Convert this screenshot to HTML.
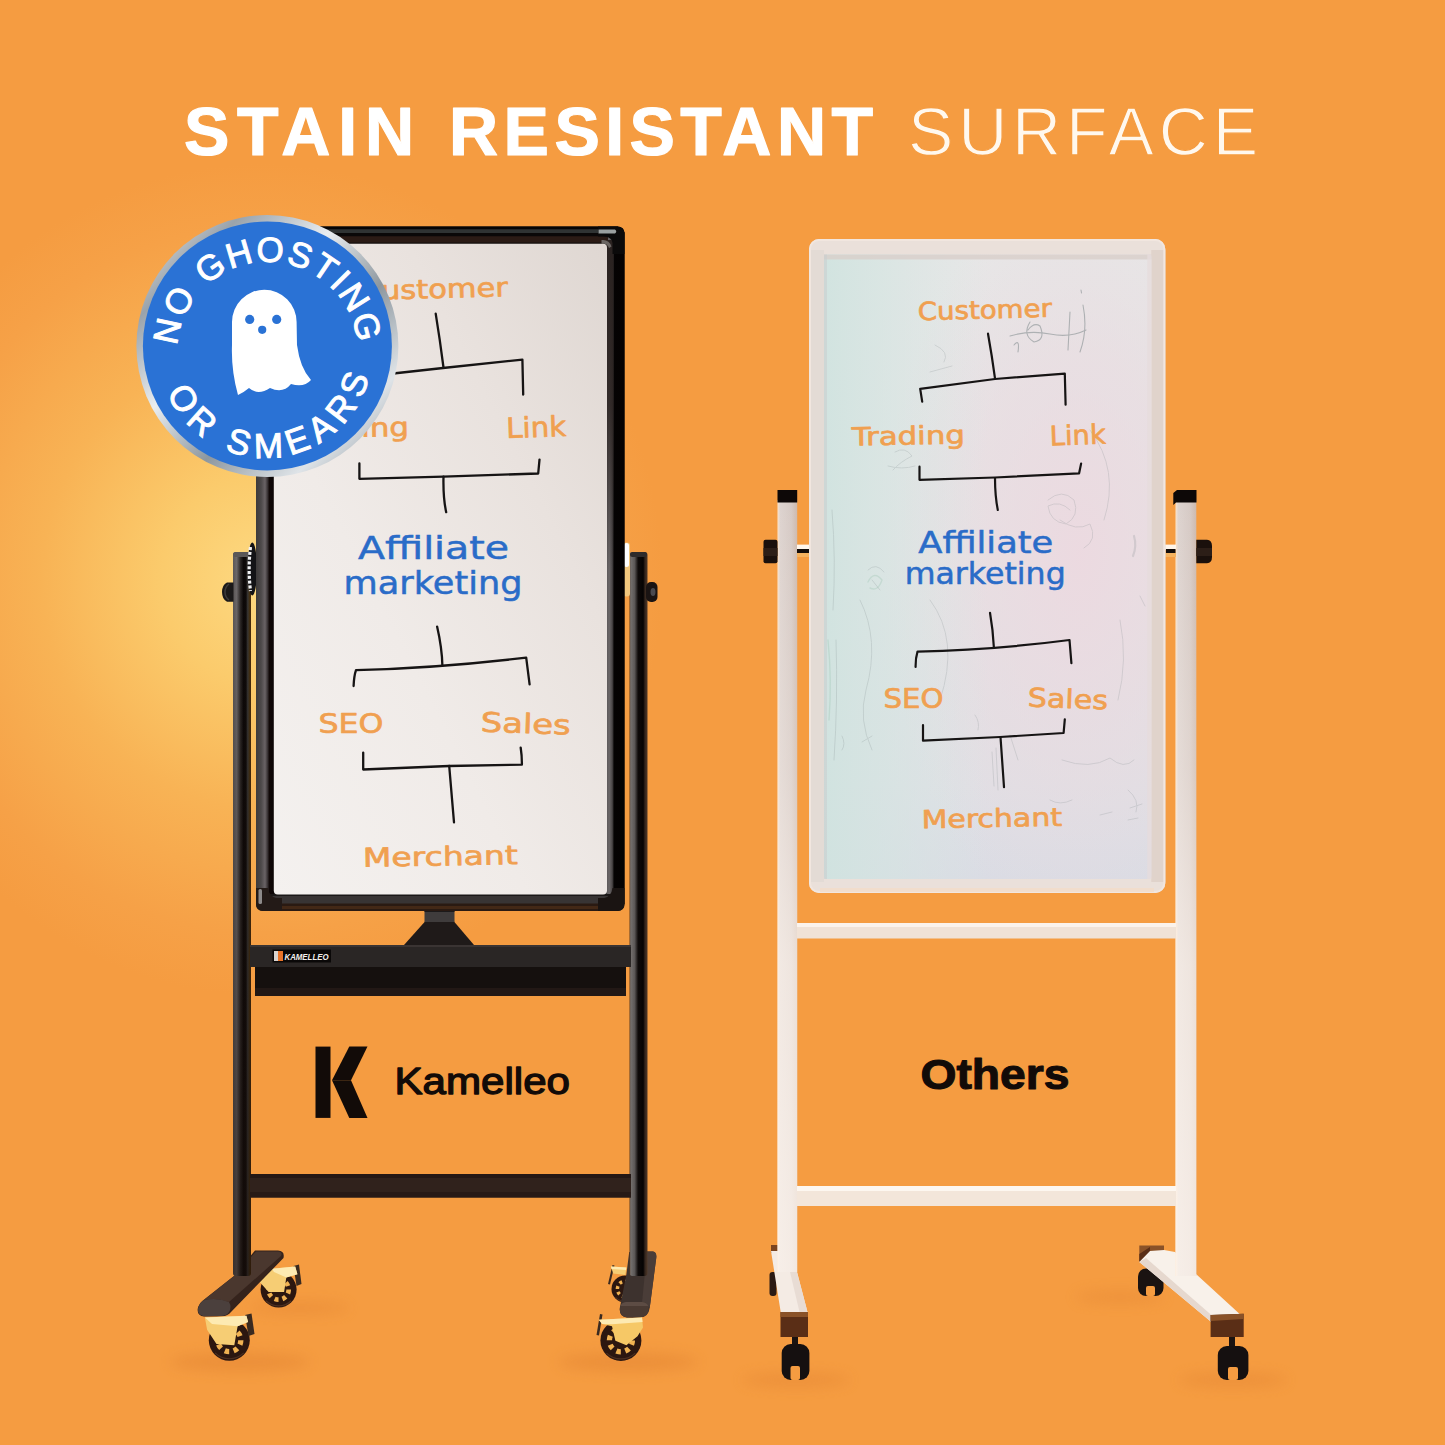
<!DOCTYPE html>
<html lang="en">
<head>
<meta charset="utf-8">
<title>Stain Resistant Surface</title>
<style>
html,body{margin:0;padding:0;background:#f59c41;}
body{width:1445px;height:1445px;overflow:hidden;position:relative;font-family:"Liberation Sans",sans-serif;}
svg{display:block;position:absolute;left:0;top:0;}
.hand{font-family:"DejaVu Sans","Liberation Sans",sans-serif;}
.lib{font-family:"Liberation Sans",sans-serif;}
</style>
</head>
<body>
<svg width="1445" height="1445" viewBox="0 0 1445 1445">
<defs>
  <radialGradient id="glow" cx="262" cy="580" r="385" gradientUnits="userSpaceOnUse" gradientTransform="translate(262 585) scale(1.04 1.08) translate(-262 -585)">
    <stop offset="0" stop-color="#fdd981"/>
    <stop offset="0.25" stop-color="#fbcb6c"/>
    <stop offset="0.55" stop-color="#f8b355"/>
    <stop offset="0.85" stop-color="#f6a147"/>
    <stop offset="1" stop-color="#f59c41"/>
  </radialGradient>
  <linearGradient id="poleL" x1="0" x2="1" y1="0" y2="0">
    <stop offset="0" stop-color="#5c5857"/>
    <stop offset="0.2" stop-color="#6d696a"/>
    <stop offset="0.42" stop-color="#2a2625"/>
    <stop offset="0.58" stop-color="#0c0808"/>
    <stop offset="0.72" stop-color="#0e0a09"/>
    <stop offset="0.82" stop-color="#3a3836"/>
    <stop offset="0.93" stop-color="#45300f"/>
    <stop offset="1" stop-color="#4a2a0a"/>
  </linearGradient>
  <linearGradient id="poleFade" x1="0" x2="0" y1="0" y2="1">
    <stop offset="0" stop-color="#1a0f0a" stop-opacity="0"/>
    <stop offset="0.45" stop-color="#1a0f0a" stop-opacity="0.25"/>
    <stop offset="1" stop-color="#1a0f0a" stop-opacity="0.55"/>
  </linearGradient>
  <linearGradient id="poleR" x1="0" x2="1" y1="0" y2="0">
    <stop offset="0" stop-color="#5a3a20"/>
    <stop offset="0.07" stop-color="#74706e"/>
    <stop offset="0.28" stop-color="#5c5857"/>
    <stop offset="0.48" stop-color="#0e0a09"/>
    <stop offset="0.76" stop-color="#050303"/>
    <stop offset="0.86" stop-color="#32241c"/>
    <stop offset="1" stop-color="#4e3828"/>
  </linearGradient>
  <linearGradient id="frameL" x1="0" x2="1" y1="0" y2="0">
    <stop offset="0" stop-color="#3d3a3a"/>
    <stop offset="0.28" stop-color="#4c4849"/>
    <stop offset="0.5" stop-color="#6a6366"/>
    <stop offset="0.64" stop-color="#3a3436"/>
    <stop offset="0.74" stop-color="#100808"/>
    <stop offset="1" stop-color="#0c0606"/>
  </linearGradient>
  <linearGradient id="frameR" x1="0" x2="1" y1="0" y2="0">
    <stop offset="0" stop-color="#5a5657"/>
    <stop offset="0.15" stop-color="#6b6768"/>
    <stop offset="0.32" stop-color="#4a4647"/>
    <stop offset="0.42" stop-color="#050303"/>
    <stop offset="1" stop-color="#050202"/>
  </linearGradient>
  <linearGradient id="wbL" x1="1" x2="0" y1="0" y2="1">
    <stop offset="0" stop-color="#dfd7d2"/>
    <stop offset="0.3" stop-color="#e9e2de"/>
    <stop offset="0.62" stop-color="#f0ebe8"/>
    <stop offset="1" stop-color="#f4f1ef"/>
  </linearGradient>
  <linearGradient id="wbR" x1="0" x2="0" y1="0" y2="1">
    <stop offset="0" stop-color="#e7e7e7"/>
    <stop offset="0.5" stop-color="#e6e4e6"/>
    <stop offset="0.85" stop-color="#dfe0e5"/>
    <stop offset="1" stop-color="#dadce4"/>
  </linearGradient>
  <linearGradient id="wbRleft" x1="0" x2="1" y1="0" y2="0">
    <stop offset="0" stop-color="#cfe3df" stop-opacity="0.9"/>
    <stop offset="0.2" stop-color="#d3e5e1" stop-opacity="0.6"/>
    <stop offset="0.5" stop-color="#d8e6e3" stop-opacity="0"/>
  </linearGradient>
  <radialGradient id="wbRpink" cx="0.78" cy="0.48" r="0.6">
    <stop offset="0" stop-color="#ecd9e0" stop-opacity="0.95"/>
    <stop offset="0.55" stop-color="#ead9df" stop-opacity="0.5"/>
    <stop offset="1" stop-color="#ead9df" stop-opacity="0"/>
  </radialGradient>
  <linearGradient id="wPole" x1="0" x2="1" y1="0" y2="0">
    <stop offset="0" stop-color="#fbe3cb"/>
    <stop offset="0.14" stop-color="#ddd3cf"/>
    <stop offset="0.7" stop-color="#d6cac5"/>
    <stop offset="1" stop-color="#cdb9ad"/>
  </linearGradient>
  <linearGradient id="bevelDark" x1="0" x2="0" y1="0" y2="1">
    <stop offset="0" stop-color="#2a2220" stop-opacity="1"/>
    <stop offset="0.5" stop-color="#2a2220" stop-opacity="0.85"/>
    <stop offset="1" stop-color="#2a2220" stop-opacity="0"/>
  </linearGradient>
  <linearGradient id="bevelDarkL" x1="0" x2="0" y1="0" y2="1">
    <stop offset="0" stop-color="#000" stop-opacity="0"/>
    <stop offset="1" stop-color="#000" stop-opacity="0"/>
  </linearGradient>
  <filter id="soft" x="-30%" y="-200%" width="160%" height="500%"><feGaussianBlur stdDeviation="7"/></filter>
  <linearGradient id="wPoleV" x1="0" x2="0" y1="0" y2="1">
    <stop offset="0" stop-color="#fff7f0" stop-opacity="0"/>
    <stop offset="0.35" stop-color="#fff7f0" stop-opacity="0.25"/>
    <stop offset="0.6" stop-color="#fff7f0" stop-opacity="0.6"/>
    <stop offset="1" stop-color="#fff7f0" stop-opacity="0.75"/>
  </linearGradient>
</defs>

<!-- ===== background ===== -->
<rect id="bg" x="0" y="0" width="1445" height="1445" fill="#f59c41"/>
<rect id="bgglow" x="0" y="0" width="1445" height="1445" fill="url(#glow)"/>

<!-- ===== heading ===== -->
<g id="heading" class="lib" fill="#ffffff" font-size="68">
  <text x="184" y="155" font-weight="700" textLength="230" lengthAdjust="spacing" stroke="#fff" stroke-width="1.2" stroke-linejoin="round">STAIN</text>
  <text x="449" y="155" font-weight="700" textLength="424" lengthAdjust="spacing" stroke="#fff" stroke-width="1.2" stroke-linejoin="round">RESISTANT</text>
  <text x="908" y="155" font-weight="400" textLength="350" lengthAdjust="spacing" fill="#fff8ee" stroke="#f59c41" stroke-width="1.3" stroke-linejoin="round">SURFACE</text>
</g>

<!-- ===== left stand (black) ===== -->
<g id="leftstand">
  <!-- floor shadows -->
  <ellipse cx="240" cy="1362" rx="70" ry="9" fill="#d9772a" opacity="0.35" filter="url(#soft)"/>
  <ellipse cx="628" cy="1362" rx="70" ry="9" fill="#d9772a" opacity="0.35" filter="url(#soft)"/>
  <ellipse cx="300" cy="1308" rx="50" ry="6" fill="#d9772a" opacity="0.3" filter="url(#soft)"/>
  <!-- back-left caster -->
  <g id="casterBL">
    <circle cx="278.6" cy="1289.6" r="18" fill="#2c1710"/><circle cx="278.6" cy="1289.6" r="10.1" fill="none" stroke="#f0b252" stroke-width="4.7" stroke-dasharray="3.96 3.96"/><path d="M266.0 1300.8 A18 18 0 0 0 291.2 1300.8" fill="none" stroke="#5a3a2a" stroke-width="1.2" opacity="0.7"/>
    <path d="M293.5 1266 L299 1264.5 L301.5 1284 L296.5 1286 Z" fill="#3a2a20"/>
    <path d="M259.7 1282 L271.9 1268.8 L295.2 1266.5 L297.4 1274.3 L286.3 1277.6 L284.1 1292 L268.6 1292 Z" fill="#f6cd74"/>
    <path d="M271.9 1268.8 L295.2 1266.5 L297.4 1274.3 L286.3 1277.6 L274 1272 Z" fill="#fdeab2"/>
  </g>
  <!-- back-right caster (mostly hidden) -->
  <g id="casterBR">
    <circle cx="625" cy="1289" r="13.5" fill="#2c1710"/><circle cx="625" cy="1289" r="7.6" fill="none" stroke="#f0b252" stroke-width="3.5" stroke-dasharray="2.97 2.97"/><path d="M615.5 1297.4 A13.5 13.5 0 0 0 634.5 1297.4" fill="none" stroke="#5a3a2a" stroke-width="1.2" opacity="0.7"/>
    <path d="M612.5 1265 L614.5 1265.5 L610 1284.5 L608 1284 Z" fill="#3a2a20"/>
    <path d="M610.9 1266.5 L626.4 1267.6 L625.3 1275 L613.2 1273.5 Z" fill="#f6cd74"/>
    <path d="M610.9 1266.5 L626.4 1267.6 L626 1270 L611.5 1269 Z" fill="#fdeab2"/>
  </g>
  <!-- feet -->
  <path id="footL" d="M255 1250.5 L278 1250.5 Q285 1251 283.5 1258 L231 1312 Q228 1316 222 1316.3 L204 1316.5 Q197 1315.5 197.7 1309 Q198.5 1304 203 1300.5 L234 1276 Z" fill="#35231c"/>
  <path d="M256 1251.5 L278 1251.500 Q283 1252 281 1256 L229 1302 Q214 1297 203 1300.5 L234 1276 Z" fill="#4a372e"/>
  <path d="M203 1300.5 Q216 1297 229 1302 Q232 1307 229 1312 Q227 1315.5 222 1316 L204 1316.3 Q197.5 1315 198 1309 Q199 1304 203 1300.5 Z" fill="#4b403d"/>
  <path id="footR" d="M629.2 1252 L647 1251.6 L653 1251.600 Q656.8 1252.500 656.300 1257.500 L649.7 1308 Q648.500 1317 640 1317.500 L627 1317.500 Q619 1316.500 619.800 1308 L626.4 1274.3 Z" fill="#3d322e"/>
  <path d="M647 1251.600 L653 1251.600 Q656.8 1252.500 656.300 1257.500 L649.7 1308 L642 1303 Z" fill="#4a3d38"/>
  <path d="M626 1302 L642 1302 Q649 1303 648.600 1309 Q648 1317 640 1317.500 L627 1317.500 Q619.500 1316.500 619.800 1309 Q620.500 1302.500 626 1302 Z" fill="#4a3a32"/>
  <path d="M626 1302 L642 1302 Q647 1302.500 648.300 1306 L620.300 1306 Q621.500 1302.500 626 1302 Z" fill="#5d4c44"/>
  <!-- poles -->
  <rect x="233" y="552" width="18" height="724" rx="3" fill="url(#poleL)"/>
  <rect x="233" y="552" width="18" height="724" rx="3" fill="url(#poleFade)"/>
  <rect x="233" y="552" width="18" height="5" rx="2.5" fill="#5a5758"/>
  <rect x="629.5" y="552" width="18" height="724" rx="3" fill="url(#poleR)"/>
  <rect x="630" y="552" width="17" height="5" rx="2.5" fill="#2e2b2b"/>
  <!-- small side knobs -->
  <path d="M233.500 582.500 L227 582.500 Q222 585 222 592 Q222 599 227 601.800 L233.500 601.800 Z" fill="#1b1919"/>
  <path d="M229 584 Q225 587 225 592 Q225 597 229 600" fill="none" stroke="#3d3b3b" stroke-width="1.500"/>
  <rect x="646" y="582" width="11.5" height="20" rx="5" fill="#1a1413"/>
  <ellipse cx="653" cy="592" rx="2.5" ry="4" fill="#4a4a50"/>
  <!-- silver / gold big knobs between pole and frame -->
  <ellipse cx="252.300" cy="569" rx="4.700" ry="26.500" fill="#131316"/>
  <path d="M250.500 547 Q247.800 569 250.500 591" fill="none" stroke="#f1f1f3" stroke-width="3.200" stroke-dasharray="3.200 1.600" stroke-linecap="butt"/>
  <rect x="623.5" y="542.5" width="6.5" height="54" rx="3" fill="#f2c77d"/>
  <rect x="624" y="543" width="5" height="24" rx="2.5" fill="#ffffff"/>
  <!-- lower crossbar -->
  <rect x="250" y="1174" width="381" height="23.5" fill="#30221c"/>
  <rect x="250" y="1174" width="381" height="4" fill="#241815"/>
  <rect x="250" y="1192" width="381" height="5.5" fill="#271a16"/>
  <!-- marker tray -->
  <rect x="255" y="964" width="371" height="32" fill="#15100e"/>
  <rect x="255" y="988" width="371" height="8" fill="#221815"/>
  <rect x="250" y="945" width="381" height="22" fill="#2a2625"/>
  <rect x="250" y="945" width="381" height="2" fill="#3a3433"/>
  <!-- pivot -->
  <path d="M404 945 L425 921.5 L454 921.5 L474 945 Z" fill="#1f1a19"/>
  <rect x="424.5" y="906" width="30" height="16" fill="#3f3c3c"/>
  <rect x="424.5" y="906" width="30" height="6" fill="#1c1a1a"/>
  <!-- brand plate -->
  <rect x="272.5" y="949.5" width="58.5" height="13" fill="#0a0808"/>
  <rect x="274" y="951" width="4" height="10" fill="#d9d4d0"/>
  <rect x="278" y="951" width="5" height="10" fill="#e8742a"/>
  <text x="284.5" y="960" class="lib" font-size="8.6" font-weight="700" font-style="italic" fill="#f4f1ee" textLength="44" lengthAdjust="spacingAndGlyphs">KAMELLEO</text>
  <!-- front-left caster -->
  <g id="casterFL">
    <circle cx="229.3" cy="1340.2" r="20.5" fill="#2c1710"/><circle cx="229.3" cy="1340.2" r="11.5" fill="none" stroke="#f0b252" stroke-width="5.3" stroke-dasharray="4.51 4.51"/><path d="M215.0 1352.9 A20.5 20.5 0 0 0 243.7 1352.9" fill="none" stroke="#5a3a2a" stroke-width="1.2" opacity="0.7"/>
    <path d="M245 1315 L251.5 1313.5 L254.5 1334 L248.5 1336 Z" fill="#3a2a20"/>
    <path d="M204.9 1317.5 L246.4 1315.8 L248.1 1321.9 L237.6 1326.3 L234.3 1345.2 L216.5 1344.1 L207.1 1329.7 Z" fill="#f6cd74"/>
    <path d="M204.9 1317.5 L246.4 1315.8 L248.1 1321.9 L237.6 1326.3 L212 1324 Z" fill="#fdeab2"/>
  </g>
  <!-- front-right caster -->
  <g id="casterFR">
    <circle cx="620.9" cy="1340.4" r="20.5" fill="#2c1710"/><circle cx="620.9" cy="1340.4" r="11.5" fill="none" stroke="#f0b252" stroke-width="5.3" stroke-dasharray="4.51 4.51"/><path d="M606.5 1353.1 A20.5 20.5 0 0 0 635.2 1353.1" fill="none" stroke="#5a3a2a" stroke-width="1.2" opacity="0.7"/>
    <path d="M600 1314 L602.5 1314.5 L599 1335.5 L596.5 1335 Z" fill="#3a2a20"/>
    <path d="M598.8 1319.7 L642 1317.5 L643 1327.5 L637.5 1336.3 L626.4 1345.2 L615.4 1340.7 L612 1326.3 L602.1 1324.1 Z" fill="#f6c866"/>
    <path d="M598.8 1319.7 L642 1317.5 L642.6 1322 L612 1324.300 L602.1 1324.1 Z" fill="#fdeab2"/>
  </g>
</g>

<!-- ===== left board (Kamelleo) ===== -->
<g id="leftboard">
  <!-- outer frame -->
  <rect x="256" y="226.5" width="368.5" height="684.5" rx="7" fill="#141111"/>
  <!-- frame sides shading -->
  <rect x="256" y="232" width="18" height="672" fill="url(#frameL)"/>
  <rect x="606.5" y="232" width="18" height="672" fill="url(#frameR)"/>
  <rect x="262" y="226.5" width="356" height="3" fill="#060505"/>
  <rect x="262" y="229.3" width="340" height="4" fill="#2f3333"/>
  <rect x="262" y="233" width="350" height="3.5" fill="#0a0808"/>
  <rect x="270" y="236.3" width="338" height="8" fill="#2b1b15"/>
  <rect x="270" y="242.5" width="338" height="1.5" fill="#15100e"/>
  <rect x="262" y="894" width="358" height="10" fill="#383434"/>
  <rect x="262" y="894" width="358" height="2" fill="#1a1717"/>
  <rect x="262" y="903.500" width="358" height="7.500" rx="3" fill="#2a1a12"/>
  <rect x="270" y="906" width="342" height="3" fill="#4a2c18" opacity="0.8"/>
  <rect x="606.500" y="240" width="7" height="330" fill="url(#bevelDark)"/>
  <rect x="256" y="470" width="18" height="120" fill="url(#bevelDarkL)" opacity="0"/>
  <!-- corner caps -->
  <path d="M598 226.5 L617.5 226.5 Q624.5 226.5 624.5 233.500 L624.5 254 L612.5 254 L612.5 243 Q612 237 604 236.500 L598 236.500 Z" fill="#0b0a0a"/>
  <path d="M598.500 229.500 L615 229.500 Q617.500 231.500 615 233.500 L598.500 233.500 Z" fill="#9aa0a0"/>
  <path d="M601.500 240 Q609 239 611.500 246.500 L609 248 Q607.500 243.500 601.500 243.600 Z" fill="#6a6562"/>
  <path d="M256 888 L268 888 Q269 896 276 898 L282 898 L282 911 L263 911 Q256 911 256 904 Z" fill="#231a17"/>
  <rect x="258.500" y="889" width="3.500" height="15" rx="1.500" fill="#8d8a8a"/>
  <path d="M624.5 888 L612.500 888 Q611.500 896 604.500 898 L598 898 L598 911 L617.5 911 Q624.5 911 624.5 904 Z" fill="#1a1412"/>
  <!-- writing surface -->
  <rect x="273.8" y="243.8" width="333.2" height="650.7" rx="4" fill="url(#wbL)"/>
  <!-- diagram lines -->
  <g fill="none" stroke="#161414" stroke-width="2.3" stroke-linecap="round" stroke-linejoin="round">
    <path d="M435.7 313.6 Q440 340 443.5 367.5"/>
    <path d="M362 396 L361.5 377 L443 368 L522.4 359.6 L523.2 394.6"/>
    <path d="M359.4 463.5 L359.4 478.8 L443.5 476.7 L538.2 473.5 L539.5 459.6"/>
    <path d="M443.5 476.7 Q443 498 446.2 512.2"/>
    <path d="M437.1 626.6 Q442 648 442.4 665.9"/>
    <path d="M353.6 686 Q354 676 356 670.2 Q440 668 526.2 657.6 L529.6 684.3"/>
    <path d="M363.2 752.6 L363.2 769.5 L449 766 L521.9 764.7 Q522 756 520.7 747.7"/>
    <path d="M449.2 765.9 L454 822.3"/>
  </g>
  <!-- handwriting -->
  <g class="hand" fill="#f0a050" font-size="26" stroke="#f0a050" stroke-width="0.7" stroke-linejoin="round">
    <text x="360" y="298" textLength="148" lengthAdjust="spacingAndGlyphs" transform="rotate(-1.5 440 298)">Customer</text>
    <text x="296" y="437" textLength="113" lengthAdjust="spacingAndGlyphs" transform="rotate(-1 350 437)">Trading</text>
    <text x="506.5" y="437" font-size="28" textLength="60" lengthAdjust="spacingAndGlyphs" transform="rotate(-2 536 437)">Link</text>
    <text x="318.5" y="733" font-size="27" textLength="65" lengthAdjust="spacingAndGlyphs">SEO</text>
    <text x="480.5" y="733" font-size="27" textLength="90" lengthAdjust="spacingAndGlyphs" transform="rotate(2 525 733)">Sales</text>
    <text x="363" y="865.5" font-size="26" textLength="155" lengthAdjust="spacingAndGlyphs" transform="rotate(-1 440 865)">Merchant</text>
  </g>
  <g class="hand" fill="#2a6cc8" font-size="32" font-weight="700">
    <text x="358" y="558.5" textLength="151" lengthAdjust="spacingAndGlyphs" font-weight="400" stroke="#2a6cc8" stroke-width="0.5">Affiliate</text>
    <text x="343.5" y="594" textLength="179" lengthAdjust="spacingAndGlyphs" font-weight="400" stroke="#2a6cc8" stroke-width="0.5">marketing</text>
  </g>
</g>

<!-- ===== badge ===== -->
<g id="badge">
  <defs>
    <linearGradient id="silver" x1="0" y1="0" x2="1" y2="1">
      <stop offset="0" stop-color="#f4f6f8"/>
      <stop offset="0.2" stop-color="#9aa3ab"/>
      <stop offset="0.4" stop-color="#e9edf0"/>
      <stop offset="0.6" stop-color="#8d979f"/>
      <stop offset="0.8" stop-color="#dfe4e8"/>
      <stop offset="1" stop-color="#7f8992"/>
    </linearGradient>
    <path id="arcTop" d="M 177.5 345.9 A 90.4 90.4 0 0 1 357.6 342.75"/>
    <path id="arcBot" d="M 167.0 392.7 A 106.9 106.9 0 0 0 369.1 376.8"/>
  </defs>
  <circle cx="267.4" cy="346" r="131" fill="url(#silver)"/>
  <circle cx="267.4" cy="346" r="124.5" fill="#2a72d5"/>
  <g class="lib" fill="#ffffff" font-weight="400" font-size="35" stroke="#ffffff" stroke-width="1">
    <text><textPath href="#arcTop" startOffset="0" textLength="268" lengthAdjust="spacing">NO GHOSTING</textPath></text>
    <text font-size="35"><textPath href="#arcBot" startOffset="0" textLength="266" lengthAdjust="spacing">OR SMEARS</textPath></text>
  </g>
  <!-- ghost -->
  <path id="ghost" d="M232 322 A32.3 32.3 0 0 1 296.6 322 L297 345 Q300 368 311 380 Q304 388 291 384 Q283 394 270 388 Q258 396 249 388 Q243 393 238 395 Q231 370 232 345 Z" fill="#ffffff"/>
  <circle cx="249.7" cy="319.4" r="4.6" fill="#2a72d5"/>
  <circle cx="276.7" cy="319.4" r="4.6" fill="#2a72d5"/>
  <circle cx="262.2" cy="329.8" r="4.1" fill="#2a72d5"/>
</g>

<!-- ===== right stand (white) ===== -->
<g id="rightstand">
  <ellipse cx="796" cy="1380" rx="55" ry="7" fill="#d9772a" opacity="0.3" filter="url(#soft)"/>
  <ellipse cx="1233" cy="1380" rx="55" ry="7" fill="#d9772a" opacity="0.3" filter="url(#soft)"/>
  <ellipse cx="1120" cy="1297" rx="45" ry="6" fill="#d9772a" opacity="0.28" filter="url(#soft)"/>
  <!-- back wheels -->
  <rect x="769.5" y="1272" width="7" height="24" rx="3" fill="#2a1a14"/>
  <rect x="1138" y="1268.5" width="25.5" height="27.5" rx="8" fill="#1a1311"/>
  <rect x="1146" y="1286" width="9" height="10" rx="2" fill="#f59c41"/>
  <!-- feet -->
  <path d="M771 1245 L778 1245 L778 1253 L771 1253 Z" fill="#7a4420"/>
  <path d="M771 1251 L797 1251 L797 1272 L808 1314 L781 1314 Z" fill="#f4ebe4"/>
  <path d="M797 1272 L808 1314 L800 1314 L790 1272 Z" fill="#e8dcd4"/>
  <rect x="780.5" y="1312" width="27.5" height="25" fill="#5a2e16"/>
  <rect x="780.5" y="1312" width="27.5" height="5" fill="#8a5228"/>
  <path d="M1139.3 1245.4 L1164 1245.4 L1164 1252 L1150 1261.5 L1139.3 1261.5 Z" fill="#8a5228"/>
  <path d="M1139.3 1254 L1150 1247 L1150 1261.5 L1139.3 1261.5 Z" fill="#5a2e16"/>
  <path d="M1164 1250 L1175 1252 L1196 1274 L1243.5 1317.5 L1212.5 1323 L1139.3 1262 L1150 1251 Z" fill="#f8f1ea"/>
  <path d="M1139.3 1262 L1212.5 1323 L1212.5 1316 L1146 1258 Z" fill="#e6d8ce"/>
  <path d="M1210.6 1315 L1243.7 1313.7 L1243.7 1337 L1210.6 1337 Z" fill="#5a2e16"/>
  <path d="M1210.6 1315 L1243.7 1313.7 L1243.7 1319 L1210.6 1321 Z" fill="#8a5228"/>
  <!-- poles -->
  <rect x="777.5" y="500" width="19.7" height="772" fill="url(#wPole)"/>
  <rect x="1175.5" y="500" width="20.8" height="776" fill="url(#wPole)"/>
  <rect x="777.5" y="500" width="19.7" height="772" fill="url(#wPoleV)"/>
  <rect x="1175.5" y="500" width="20.8" height="776" fill="url(#wPoleV)"/>
  <!-- black caps -->
  <rect x="777.5" y="490" width="19.7" height="12.5" fill="#0d0807"/>
  <path d="M1173.3 493 L1177 490 L1196.5 490 L1196.5 502.5 L1176 502.5 L1173.3 505 Z" fill="#0d0807"/>
  <!-- knobs -->
  <rect x="763.5" y="539.7" width="14" height="23.5" rx="2" fill="#1a100c"/>
  <rect x="763.5" y="548" width="14" height="8" fill="#2c1e17"/>
  <path d="M1196.3 539.7 L1207 539.7 Q1212 540 1212 546 L1212 557 Q1212 563 1207 563.2 L1196.3 563.2 Z" fill="#1a100c"/>
  <rect x="1196.3" y="548" width="15.7" height="8" fill="#2c1e17"/>
  <!-- pins -->
  <rect x="797" y="544.6" width="12.4" height="5" fill="#fff6ec"/>
  <rect x="797" y="549" width="12.4" height="4" fill="#120c0a"/>
  <rect x="797" y="553" width="12.4" height="4" fill="#f5b25e"/>
  <rect x="1164" y="544.6" width="12" height="5" fill="#fff6ec"/>
  <rect x="1166" y="549" width="9.5" height="4" fill="#120c0a"/>
  <rect x="1164" y="553" width="12" height="4" fill="#f5b25e"/>
  <!-- crossbars -->
  <rect x="797" y="923" width="379" height="15.5" fill="#f0e2d6"/>
  <rect x="797" y="923" width="379" height="4" fill="#fbf3ec"/>
  <rect x="797" y="1186" width="379" height="20" fill="#f3e6da"/>
  <rect x="797" y="1186" width="379" height="5" fill="#fdf7f0"/>
  <!-- front casters -->
  <rect x="792" y="1337" width="6" height="9" fill="#1a1311"/>
  <rect x="781.7" y="1344" width="27.7" height="36" rx="9" fill="#151010"/>
  <rect x="790.5" y="1366" width="9.5" height="14" rx="2" fill="#f59c41"/>
  <rect x="1229" y="1337" width="6" height="10" fill="#1a1311"/>
  <rect x="1217.8" y="1346" width="30.6" height="34" rx="9" fill="#151010"/>
  <rect x="1228" y="1367" width="10" height="13" rx="2" fill="#f59c41"/>
</g>

<!-- ===== right board (Others) ===== -->
<g id="rightboard">
  <rect x="809" y="239" width="356.3" height="654" rx="10" fill="#eae0da"/>
  <rect x="1151.300" y="250" width="14" height="632" fill="#dccfc5" opacity="0.75"/>
  <rect x="809" y="250" width="15" height="632" fill="#e0d8d3" opacity="0.7"/>
  <rect x="810" y="240" width="354.3" height="652" rx="9" fill="none" stroke="#f1e6df" stroke-width="2"/>
  <rect x="820" y="888" width="334" height="4" fill="#f2dcc8" opacity="0.8"/>
  <rect x="824" y="254.5" width="327.3" height="624.5" rx="3" fill="url(#wbR)"/>
  <rect x="824" y="254.5" width="327.3" height="624.5" rx="3" fill="url(#wbRpink)"/>
  <rect x="824" y="254.5" width="327.3" height="624.5" rx="3" fill="url(#wbRleft)"/>
  <rect x="824" y="254.5" width="327.3" height="5" fill="#d8cec9" opacity="0.8"/>
  <rect x="824" y="254.5" width="3" height="624.5" fill="#c9cfce" opacity="0.6"/>
  <rect x="1147.3" y="254.5" width="4" height="624.5" fill="#e6dcdc" opacity="0.8"/>
  <!-- ghosting / smears left behind on the cheap board -->
  <g id="smears" fill="none" stroke="#7f8a8c" stroke-linecap="round" stroke-linejoin="round">
    <g opacity="0.55" stroke-width="1.1">
      <path d="M1010 336 Q1030 330 1050 334 T1086 330"/>
      <path d="M1030 322 Q1022 335 1034 342 Q1046 340 1040 326 Q1034 322 1028 330"/>
      <path d="M1070 312 L1068 350 M1083 305 Q1088 330 1080 352"/>
      <path d="M1014 345 Q1020 338 1018 352"/>
      <path d="M1081 290 L1081.5 293"/>
    </g>
    <g opacity="0.22" stroke-width="1">
      <path d="M935 345 Q950 352 944 362 M930 372 L952 366"/>
      <path d="M895 452 Q905 446 912 456 Q900 462 893 470"/>
      <path d="M888 466 Q902 470 915 466"/>
      <path d="M1048 500 Q1062 488 1074 500 Q1080 516 1066 524 Q1050 522 1048 506 Q1060 500 1070 510"/>
      <path d="M1060 520 Q1076 532 1090 524 Q1098 540 1084 548"/>
      <path d="M1134 536 Q1137 546 1133 556" stroke-width="2.2"/>
      <path d="M1140 596 L1145 606"/>
      <path d="M832 510 Q836 560 833 610 M836 640 Q838 700 834 760"/>
      <path d="M868 570 Q876 562 884 572 M872 580 L880 590"/>
      <path d="M860 600 Q880 640 866 690 Q858 720 872 750"/>
      <path d="M1120 620 Q1128 660 1118 700"/>
      <path d="M1010 735 L1018 760 M996 748 L998 790 M992 752 L994 786"/>
      <path d="M1062 760 Q1090 770 1110 758 Q1124 770 1134 760"/>
      <path d="M1128 790 Q1140 800 1136 812 M1130 808 L1142 804 M1128 820 L1138 818"/>
      <path d="M1100 815 L1112 812 M1050 800 Q1060 806 1072 800"/>
      <path d="M975 715 Q980 722 978 730"/>
      <path d="M862 742 L872 736 M842 736 Q846 744 842 750"/>
      <path d="M930 600 Q960 640 940 700"/>
      <path d="M1090 430 Q1120 470 1104 520"/>
    </g>
    <g opacity="0.22" stroke="#7fb59a" stroke-width="1.4">
      <path d="M868 582 Q874 570 882 580 Q878 592 870 588"/>
      <path d="M828 640 Q832 680 829 720"/>
    </g>
  </g>
  <!-- lines -->
  <g fill="none" stroke="#161414" stroke-width="2.2" stroke-linecap="round" stroke-linejoin="round">
    <path d="M988 333.7 Q992 356 995 378.3"/>
    <path d="M922.2 401.6 L920.2 388.8 L995 379 L1064.8 373.6 L1065.6 404.7"/>
    <path d="M919.5 466.7 L919.5 479.8 L995 477.5 L1079.1 473.3 L1081.1 463.6"/>
    <path d="M995 478 Q995 496 997.8 510"/>
    <path d="M990 612.8 Q993 630 993.9 647.7"/>
    <path d="M915.6 667 Q915.5 658 917.5 651.6 Q993 650 1069.5 640 L1071.4 663.2"/>
    <path d="M923 725.2 L923 740.7 L1000 737 L1063.6 733 L1064.8 719.4"/>
    <path d="M1000.5 737 L1004 787.2"/>
  </g>
  <!-- handwriting -->
  <g class="hand" fill="#f0a050" font-size="25" stroke="#f0a050" stroke-width="0.7" stroke-linejoin="round">
    <text x="918" y="318.5" textLength="134" lengthAdjust="spacingAndGlyphs" transform="rotate(-1.5 985 318)">Customer</text>
    <text x="852" y="444.5" textLength="113" lengthAdjust="spacingAndGlyphs" transform="rotate(-1 908 444)">Trading</text>
    <text x="1050" y="444.5" font-size="27" textLength="56" lengthAdjust="spacingAndGlyphs" transform="rotate(-2 1078 444)">Link</text>
    <text x="883.4" y="708" font-size="26" textLength="60" lengthAdjust="spacingAndGlyphs">SEO</text>
    <text x="1027.6" y="708" font-size="26" textLength="80" lengthAdjust="spacingAndGlyphs" transform="rotate(2 1067 708)">Sales</text>
    <text x="921.7" y="827" font-size="25" textLength="140.5" lengthAdjust="spacingAndGlyphs" transform="rotate(-1 990 827)">Merchant</text>
  </g>
  <g class="hand" fill="#2a6cc8" font-size="30">
    <text x="918.3" y="553" textLength="135" lengthAdjust="spacingAndGlyphs" stroke="#2a6cc8" stroke-width="0.5">Affiliate</text>
    <text x="904.7" y="584" textLength="161" lengthAdjust="spacingAndGlyphs" stroke="#2a6cc8" stroke-width="0.5">marketing</text>
  </g>
</g>

<!-- ===== labels ===== -->
<g id="labels">
  <g id="klogo" fill="#120b08">
    <rect x="315.5" y="1046.6" width="15" height="71.3"/>
    <path d="M349.3 1046.6 L367.5 1046.6 L351 1080.3 L332 1080.3 Z"/>
    <path d="M332 1080.3 L351 1080.3 L367.5 1117.9 L349.3 1117.9 Z"/>
  </g>
  <text x="394.5" y="1094.2" class="lib" font-size="37.5" font-weight="400" fill="#120b08" stroke="#120b08" stroke-width="1.3" stroke-linejoin="round" textLength="175.5" lengthAdjust="spacingAndGlyphs">Kamelleo</text>
  <text x="920.5" y="1089" class="lib" font-size="43" font-weight="700" fill="#120b08" stroke="#120b08" stroke-width="1.1" stroke-linejoin="round" textLength="149" lengthAdjust="spacingAndGlyphs">Others</text>
</g>

</svg>
</body>
</html>
